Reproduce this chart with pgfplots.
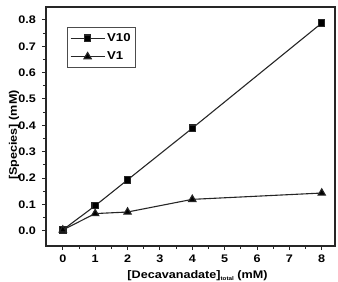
\documentclass[border=0pt]{standalone}
\usepackage{pgfplots}
\pgfplotsset{compat=1.18}
\usepackage{fontspec}
\setmainfont{Liberation Sans}[FakeStretch=1.15]
\begin{document}
\begin{tikzpicture}
\useasboundingbox (-46bp,-36bp) rectangle (292bp,246bp);
\begin{axis}[
  at={(0,0)}, anchor=south west,
  scale only axis,
  width=289bp, height=239bp,
  xmin=-0.52, xmax=8.41,
  ymin=-0.058, ymax=0.849,
  xtick={0,1,...,8},
  minor x tick num=1,
  ytick={0,0.1,...,0.8},
  minor y tick num=1,
  axis line style={line width=1.5bp, black!85},
  tick style={line width=1bp, black!85},
  tick align=outside,
  xtick pos=bottom, ytick pos=left,
  major tick length=4bp, minor tick length=3bp,
  /pgf/number format/assume math mode=true,
  yticklabel style={/pgf/number format/fixed, /pgf/number format/fixed zerofill, /pgf/number format/precision=1, xshift=-2.5bp},
  ticklabel style={font=\fontsize{11}{12}\selectfont\bfseries},
  xticklabel style={yshift=-1bp},
  label style={font=\fontsize{11}{12}\selectfont\bfseries},
  xlabel={[Decavanadate]\raisebox{-0.35ex}{\fontsize{5.5}{6}\selectfont total} (mM)},
  ylabel={[Species] (mM)},
  xlabel style={at={(axis description cs:0.5,0)}, anchor=base, yshift=-32bp, xshift=7bp},
  ylabel style={at={(axis description cs:0,0.464)}, anchor=center, yshift=32bp},
  legend style={at={(0.0716,0.916)}, anchor=north west, draw=black!70, line width=0.8bp,
    font=\fontsize{11.5}{12}\selectfont\bfseries, inner xsep=3bp, inner ysep=4bp, row sep=5bp},
  legend cell align=left,
  legend image code/.code={
    \draw[mark repeat=2, mark phase=2] plot coordinates {(0bp,0bp) (17bp,0bp) (34bp,0bp)};
  },
]
\addplot[black!85, line width=1.1bp, mark=square*, mark size=3.2bp, mark options={solid, fill=black}]
  coordinates {(0,0.003) (1,0.095) (2,0.193) (4,0.389) (8,0.788)};
\addlegendentry{V10}
\addplot[black!85, line width=1.1bp, mark=triangle*, mark size=4.2bp, mark options={solid, fill=black}]
  coordinates {(0,0.003) (1,0.065) (2,0.071) (4,0.119) (8,0.143)};
\addlegendentry{V1}
\end{axis}
\end{tikzpicture}
\end{document}
